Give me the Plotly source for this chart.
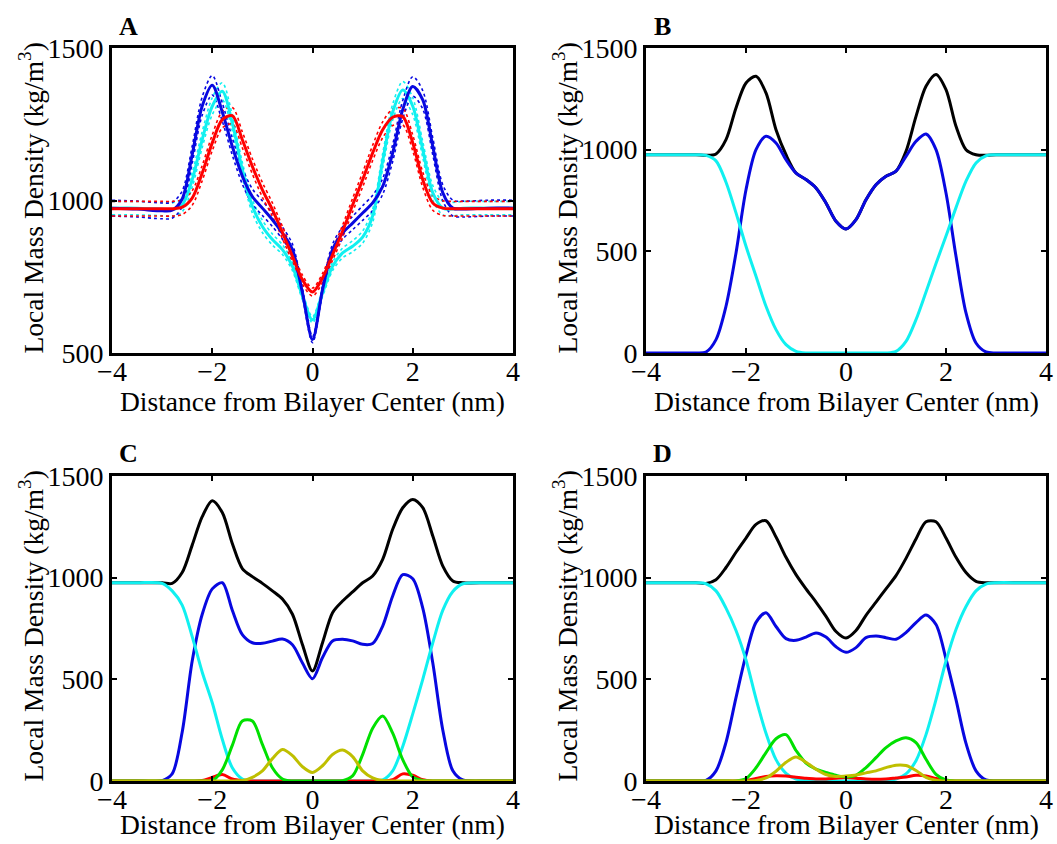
import plotly.graph_objects as go

# Distance from bilayer center (nm) at which every profile is sampled
Z = [-4.0, -3.5, -3.0, -2.8, -2.6, -2.4, -2.2, -2.0, -1.8, -1.6, -1.4, -1.2,
     -1.0, -0.8, -0.6, -0.4, -0.2, 0.0, 0.2, 0.4, 0.6, 0.8, 1.0, 1.2,
     1.4, 1.6, 1.8, 2.0, 2.2, 2.4, 2.6, 2.8, 3.0, 3.5, 4.0]

# Panel A: total density of three systems (mean and standard deviation)
A_blue = [975, 972, 966, 968, 1005, 1150, 1310, 1378, 1290, 1177, 1080, 1013,
          975, 937, 893, 839, 697, 544, 708, 839, 893, 926, 959, 992,
          1046, 1156, 1298, 1374, 1330, 1177, 1025, 975, 972, 975, 975]
A_blue_sd = [26, 26, 26, 26, 26, 28, 30, 32, 30, 28, 26, 25,
             24, 22, 20, 18, 14, 10, 14, 18, 20, 22, 24, 25,
             26, 28, 30, 32, 30, 28, 26, 26, 26, 26, 26]
A_cyan = [975, 975, 972, 970, 985, 1068, 1200, 1309, 1358, 1254, 1101, 981,
          915, 872, 839, 784, 686, 609, 697, 784, 828, 850, 880, 950,
          1130, 1290, 1362, 1309, 1167, 1025, 975, 972, 975, 975, 975]
A_cyan_sd = [22, 22, 22, 22, 22, 24, 26, 28, 28, 26, 24, 22,
             20, 18, 16, 14, 12, 10, 12, 14, 16, 18, 20, 22,
             24, 26, 28, 28, 26, 24, 22, 22, 22, 22, 22]
A_red = [973, 973, 973, 973, 978, 1008, 1090, 1189, 1265, 1278, 1199, 1112,
         1035, 970, 895, 817, 740, 700, 746, 822, 899, 985, 1068, 1156,
         1232, 1273, 1275, 1189, 1068, 992, 975, 973, 973, 973, 973]
A_red_sd = [24, 24, 24, 24, 24, 24, 25, 26, 27, 27, 26, 25,
            24, 22, 20, 18, 15, 13, 15, 18, 20, 22, 24, 25,
            26, 27, 27, 26, 25, 24, 24, 24, 24, 24, 24]

# Panel B: total, lipid and water
B_black = [975, 975, 975, 972, 979, 1049, 1205, 1328, 1361, 1279, 1098, 975,
           885, 853, 812, 738, 648, 610, 656, 754, 828, 869, 894, 992,
           1164, 1312, 1370, 1295, 1115, 1000, 975, 972, 975, 975, 975]
B_blue = [0, 0, 0, 5, 66, 230, 492, 803, 1000, 1066, 1033, 951,
          885, 853, 812, 738, 648, 610, 656, 754, 828, 869, 894, 967,
          1041, 1077, 1000, 787, 476, 197, 49, 5, 0, 0, 0]
B_cyan = [975, 975, 975, 972, 945, 840, 689, 525, 377, 230, 115, 41,
          8, 0, 0, 0, 0, 0, 0, 0, 0, 0, 8, 57,
          164, 300, 440, 575, 715, 845, 935, 970, 975, 975, 975]

# Panel C: total, lipid, water and additive components
C_black = [975, 975, 975, 972, 1025, 1160, 1300, 1378, 1320, 1168, 1045, 1005,
           972, 935, 895, 820, 670, 541, 680, 828, 885, 930, 975, 1008,
           1090, 1238, 1344, 1385, 1344, 1205, 1057, 984, 975, 975, 975]
C_blue = [0, 0, 2, 35, 240, 590, 820, 945, 975, 840, 720, 680,
          677, 688, 698, 670, 580, 503, 607, 689, 697, 689, 672, 676,
          762, 910, 1015, 995, 850, 580, 250, 50, 5, 0, 0]
C_cyan = [975, 975, 972, 935, 865, 710, 535, 385, 205, 65, 10, 0,
          0, 0, 0, 0, 0, 0, 0, 0, 0, 0, 0, 0,
          5, 50, 170, 330, 500, 680, 840, 932, 970, 975, 975]
C_red = [0, 0, 0, 0, 0, 0, 2, 18, 32, 10, 2, 0,
         0, 0, 0, 0, 0, 0, 0, 0, 0, 0, 0, 0,
         0, 6, 35, 28, 6, 0, 0, 0, 0, 0, 0]
C_green = [0, 0, 0, 0, 0, 0, 0, 2, 55, 175, 295, 295,
           180, 65, 10, 0, 0, 0, 0, 0, 2, 25, 130, 260,
           320, 235, 105, 20, 2, 0, 0, 0, 0, 0, 0]
C_olive = [0, 0, 0, 0, 0, 0, 0, 0, 0, 0, 2, 18,
           50, 110, 155, 125, 70, 42, 75, 130, 152, 120, 50, 15,
           2, 0, 0, 0, 0, 0, 0, 0, 0, 0, 0]

# Panel D: total, lipid, water and additive components
D_black = [975, 975, 975, 972, 990, 1050, 1125, 1195, 1262, 1280, 1200, 1100,
           1015, 945, 880, 810, 735, 703, 740, 815, 880, 945, 1010, 1095,
           1190, 1275, 1275, 1195, 1100, 1025, 982, 975, 975, 975, 975]
D_blue = [0, 0, 0, 3, 50, 190, 410, 620, 780, 828, 760, 700,
          692, 708, 728, 708, 660, 633, 656, 705, 713, 705, 697, 730,
          779, 816, 770, 600, 400, 185, 50, 5, 0, 0, 0]
D_cyan = [975, 975, 975, 970, 935, 850, 740, 595, 405, 235, 105, 38,
          10, 2, 0, 0, 0, 0, 0, 0, 0, 2, 10, 35,
          100, 228, 400, 590, 745, 858, 935, 968, 975, 975, 975]
D_red = [0, 0, 0, 0, 0, 0, 0, 3, 12, 22, 26, 24,
         18, 14, 10, 10, 14, 17, 14, 10, 8, 10, 15, 20,
         28, 25, 12, 3, 0, 0, 0, 0, 0, 0, 0]
D_green = [0, 0, 0, 0, 0, 0, 0, 12, 65, 140, 208, 228,
           150, 88, 58, 42, 28, 20, 28, 66, 115, 164, 197, 213,
           189, 107, 33, 5, 0, 0, 0, 0, 0, 0, 0]
D_olive = [0, 0, 0, 0, 0, 0, 0, 0, 3, 15, 48, 92,
           118, 92, 58, 32, 22, 25, 30, 40, 50, 66, 78, 76,
           52, 18, 4, 0, 0, 0, 0, 0, 0, 0, 0]

X_TICKS = [-4, -2, 0, 2, 4]
Y_TICKS_A = [500, 1000, 1500]
Y_TICKS = [0, 500, 1000, 1500]
PANEL_LABELS = ["A", "B", "C", "D"]
X_TITLE = "Distance from Bilayer Center (nm)"
Y_TITLE = "Local Mass Density (kg/m<sup>3</sup>)"

BLACK = "#000000"
BLUE = "#0808e0"
CYAN = "#10f0f0"
RED = "#ff0000"
GREEN = "#00e000"
OLIVE = "#bfbf00"
FONT = "Liberation Serif, Times New Roman, serif"

W, H = 1057, 844
# plot-area boxes in pixels: (left, right, top, bottom, x-title offset)
BOXES = [(112, 513, 48, 353, 48), (646, 1046, 48, 353, 48),
         (112, 513, 476, 781, 43), (646, 1046, 476, 781, 43)]

fig = go.Figure()


def add_line(x, y, color, idx, width=3.0, dash="solid"):
    suffix = "" if idx == 0 else str(idx + 1)
    fig.add_trace(go.Scatter(
        x=x, y=y, mode="lines",
        line=dict(color=color, width=width, dash=dash,
                  shape="spline", smoothing=0.85),
        xaxis="x" + suffix, yaxis="y" + suffix,
        showlegend=False, hoverinfo="skip"))


# Panel A: dotted bands at mean +/- sd, then the means
for mean, sd, col in [(A_cyan, A_cyan_sd, CYAN), (A_blue, A_blue_sd, BLUE),
                      (A_red, A_red_sd, RED)]:
    add_line(Z, [m + s for m, s in zip(mean, sd)], col, 0, width=1.6, dash="dot")
    add_line(Z, [m - s for m, s in zip(mean, sd)], col, 0, width=1.6, dash="dot")
for mean, col in [(A_cyan, CYAN), (A_blue, BLUE), (A_red, RED)]:
    add_line(Z, mean, col, 0)

# Panel B
for ys, col in [(B_black, BLACK), (B_blue, BLUE), (B_cyan, CYAN)]:
    add_line(Z, ys, col, 1)

# Panel C
for ys, col in [(C_black, BLACK), (C_blue, BLUE), (C_cyan, CYAN),
                (C_red, RED), (C_green, GREEN), (C_olive, OLIVE)]:
    add_line(Z, ys, col, 2)

# Panel D
for ys, col in [(D_black, BLACK), (D_blue, BLUE), (D_cyan, CYAN),
                (D_red, RED), (D_green, GREEN), (D_olive, OLIVE)]:
    add_line(Z, ys, col, 3)

tick_font = dict(family=FONT, size=28, color="black")
title_font = dict(family=FONT, size=27.5, color="black")
layout = dict(
    width=W, height=H,
    margin=dict(l=0, r=0, t=0, b=0, autoexpand=False),
    paper_bgcolor="white", plot_bgcolor="white",
    showlegend=False,
    annotations=[],
)

for i, (l, r, t, b, off) in enumerate(BOXES):
    suffix = "" if i == 0 else str(i + 1)
    common = dict(showline=True, linewidth=3, linecolor="black",
                  mirror="ticks", ticks="inside", ticklen=5, tickwidth=2,
                  tickcolor="black", showgrid=False, zeroline=False,
                  tickfont=tick_font, fixedrange=True, automargin=False)
    layout["xaxis" + suffix] = dict(
        common, domain=[l / W, r / W], range=[-4, 4],
        tickmode="array", tickvals=X_TICKS, ticklabelstandoff=-9,
        anchor="y" + suffix)
    layout["yaxis" + suffix] = dict(
        common, domain=[1 - b / H, 1 - t / H],
        range=[500, 1500] if i == 0 else [0, 1500],
        tickmode="array", tickvals=Y_TICKS_A if i == 0 else Y_TICKS,
        anchor="x" + suffix)
    # x-axis title below the tick labels
    layout["annotations"].append(dict(
        text=X_TITLE, xref="paper", yref="paper",
        x=(l + r) / 2 / W, y=1 - (b + off) / H, xanchor="center",
        yanchor="middle", showarrow=False, font=title_font))
    # rotated y-axis title
    layout["annotations"].append(dict(
        text=Y_TITLE, xref="paper", yref="paper", textangle=-90,
        x=(l - 80) / W, y=1 - ((t + b) / 2 - 2) / H, xanchor="center",
        yanchor="middle", showarrow=False, font=title_font))
    # panel letter
    layout["annotations"].append(dict(
        text="<b>%s</b>" % PANEL_LABELS[i], xref="paper", yref="paper",
        x=(l + 16) / W, y=1 - (t - 22) / H, xanchor="center", yanchor="middle",
        showarrow=False, font=dict(family=FONT, size=26, color="black")))

fig.update_layout(**layout)
fig.write_html("out.html")
